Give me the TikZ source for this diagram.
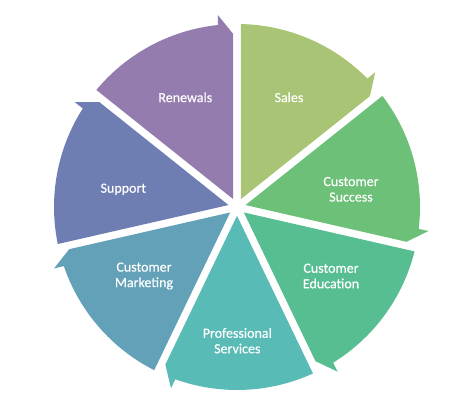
\documentclass[tikz,border=0pt]{standalone}
\usepackage{fontspec}
\setmainfont{Carlito}
\newfontfamily\lblfont{Carlito}[FakeBold=0.35]
\usetikzlibrary{calc}
\definecolor{cSales}{HTML}{A8C474}
\definecolor{cSuccess}{HTML}{6CC077}
\definecolor{cEdu}{HTML}{57BE92}
\definecolor{cProf}{HTML}{58BBB5}
\definecolor{cMkt}{HTML}{63A1B8}
\definecolor{cSup}{HTML}{6E7EB2}
\definecolor{cRen}{HTML}{947CAE}
\begin{document}
\begin{tikzpicture}[x=1pt,y=1pt,
  lbl/.style={text=white, align=center, inner sep=0pt, font=\lblfont\fontsize{14}{15.5}\selectfont}]
\useasboundingbox (0,0) rectangle (453,420);
\def\R{183}
\def\g{3.8}
\def\W{51.4286}
\foreach \k/\c in {0/cSales,1/cSuccess,2/cEdu,3/cProf,4/cMkt,5/cSup,6/cRen}{
  \begin{scope}[shift={(237,213)}, rotate={-\k*\W}]
    \pgfmathsetmacro\b{90-\W}
    \pgfmathsetmacro\sa{90-asin(\g/\R)}
    \fill[\c] (\g,{2.0765*\g}) -- (\sa:\R)
      arc[start angle=\sa, end angle={\b+6}, radius=\R]
      -- ({\b+5.7}:{\R+10})
      -- ($({\b}:{\R-10})+({\b+90}:\g)$) -- cycle;
  \end{scope}
}
\node[lbl] (sales) at (289,322.7) {Sales};
\node[lbl] (success) at (351,230.7) {Customer\\Success};
\node[lbl] (edu) at (331,144) {Customer\\Education};
\node[lbl] (prof) at (237.3,79.3) {Professional\\Services};
\node[lbl] (mkt) at (144,144) {Customer\\Marketing};
\node[lbl] (sup) at (123.3,230.7) {Support};
\node[lbl] (ren) at (185.3,322.7) {Renewals};
\end{tikzpicture}
\end{document}
